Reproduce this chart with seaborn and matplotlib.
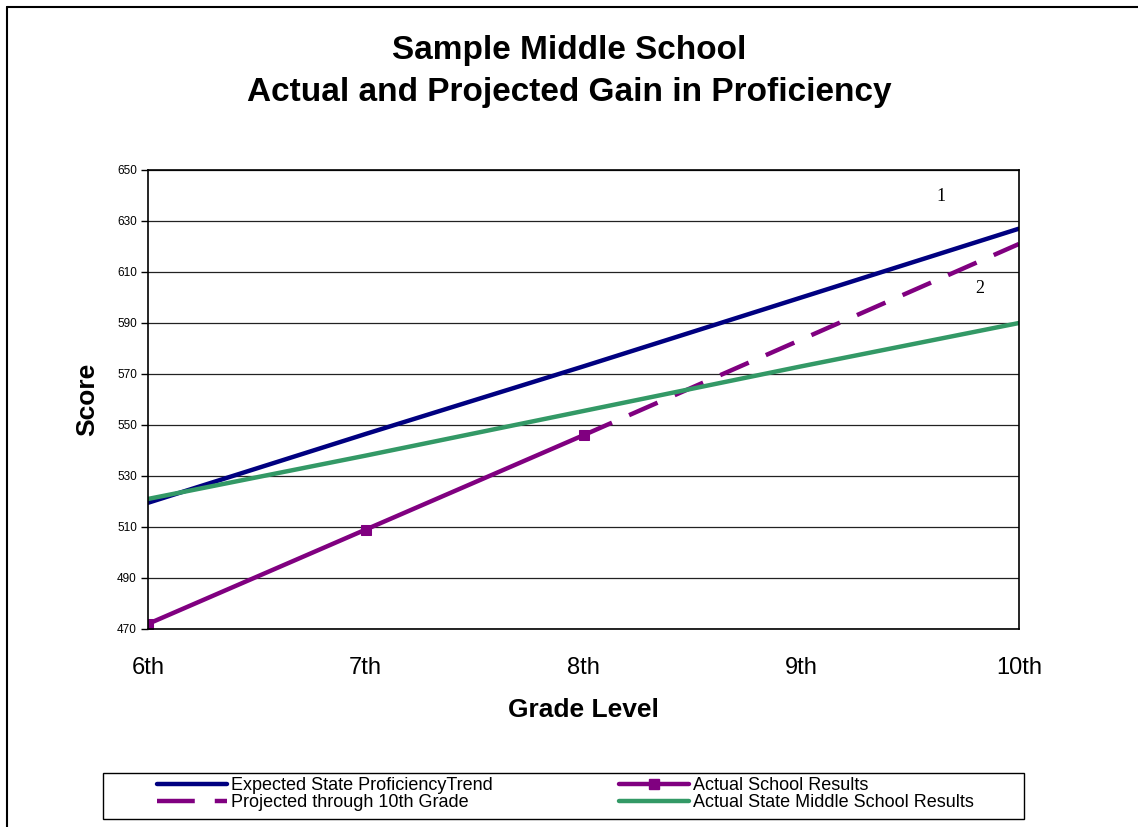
import matplotlib
matplotlib.use("Agg")
import matplotlib.pyplot as plt
from matplotlib.lines import Line2D
from matplotlib.patches import Rectangle
import seaborn as sns
import pandas as pd

# data
grades = ["6th", "7th", "8th", "9th", "10th"]
expected_trend = [519.5, 546.5, 573, 600, 627]
state_results = [521, 538, 555.5, 573, 590]
school_grades = ["6th", "7th", "8th"]
school_results = [472, 509, 546]
proj_grades = ["8th", "9th", "10th"]
projected = [546, 583.5, 621]

sns.set_style("white")
plt.rcParams['font.family'] = ['Liberation Sans', 'DejaVu Sans']
plt.rcParams['text.color'] = 'black'
plt.rcParams['axes.labelcolor'] = 'black'
plt.rcParams['xtick.color'] = 'black'
plt.rcParams['ytick.color'] = 'black'

pos = {g: i for i, g in enumerate(grades)}
df_exp = pd.DataFrame({"x": [pos[g] for g in grades], "y": expected_trend})
df_state = pd.DataFrame({"x": [pos[g] for g in grades], "y": state_results})
df_school = pd.DataFrame({"x": [pos[g] for g in school_grades], "y": school_results})
df_proj = pd.DataFrame({"x": [pos[g] for g in proj_grades], "y": projected})

navy = "#000080"
purple = "#800080"
green = "#339966"
lw = 3.2

fig = plt.figure(figsize=(11.38, 8.27), dpi=100)
ax = fig.add_axes([148/1138, 1-629/827, 871/1138, 459/827])

sns.lineplot(data=df_exp, x="x", y="y", color=navy, lw=lw, ax=ax)
sns.lineplot(data=df_proj, x="x", y="y", color=purple, lw=lw, ax=ax)
ax.lines[-1].set_dashes((7, 4.2))
sns.lineplot(data=df_state, x="x", y="y", color=green, lw=lw, ax=ax)
sns.lineplot(data=df_school, x="x", y="y", color=purple, lw=lw, ax=ax,
             marker="s", markersize=7, markeredgecolor=purple)

ax.set_xlim(0, 4)
ax.set_ylim(470, 650)
ax.set_yticks(range(470, 651, 20))
ax.set_xticks(range(5))
ax.set_xticklabels(grades, fontsize=17)
ax.tick_params(axis="y", labelsize=8.5, length=5, direction="out", left=True, width=1, pad=3)
ax.tick_params(axis="x", pad=20, length=0)
ax.yaxis.grid(True, color="#222222", lw=0.9)
for s in ax.spines.values():
    s.set_color("black")
    s.set_linewidth(1.2)
ax.set_xlabel("Grade Level", fontsize=19, fontweight="bold", labelpad=14)
ax.set_ylabel("Score", fontsize=19, fontweight="bold", labelpad=13)

ax.text(3.64, 639.5, "1", family="Liberation Serif", fontsize=13, ha="center", va="center")
ax.text(3.82, 603.5, "2", family="Liberation Serif", fontsize=13, ha="center", va="center")

fig.text(0.5, 1-50/827, "Sample Middle School", fontsize=24, fontweight="bold",
         ha="center", va="center")
fig.text(0.5, 1-93/827, "Actual and Projected Gain in Proficiency", fontsize=24,
         fontweight="bold", ha="center", va="center")

# legend: frame plus two columns
fig.add_artist(Rectangle((103/1138, 1-819/827), 921/1138, 46/827, fill=False,
                         ec="black", lw=1.0, transform=fig.transFigure))
h1 = [Line2D([], [], color=navy, lw=lw),
      Line2D([], [], color=purple, lw=lw, dashes=(8.5, 4.5))]
l1 = ["Expected State ProficiencyTrend", "Projected through 10th Grade"]
h2 = [Line2D([], [], color=purple, lw=lw, marker="s", markersize=7),
      Line2D([], [], color=green, lw=lw)]
l2 = ["Actual School Results", "Actual State Middle School Results"]
kw = dict(loc="upper left", fontsize=13, frameon=False, handlelength=3.9,
          handletextpad=0.2, borderpad=0, labelspacing=0.0, borderaxespad=0)
leg1 = fig.legend(h1, l1, bbox_to_anchor=(157/1138, 1-777/827), **kw)
leg2 = fig.legend(h2, l2, bbox_to_anchor=(619/1138, 1-777/827), **kw)

# outer chart border (top and left visible)
fig.add_artist(Line2D([7/1138, 7/1138], [0, 1-7/827], color="black", lw=1.5,
                      transform=fig.transFigure))
fig.add_artist(Line2D([7/1138, 1], [1-7/827, 1-7/827], color="black", lw=1.5,
                      transform=fig.transFigure))

fig.savefig("out.png", dpi=100)
